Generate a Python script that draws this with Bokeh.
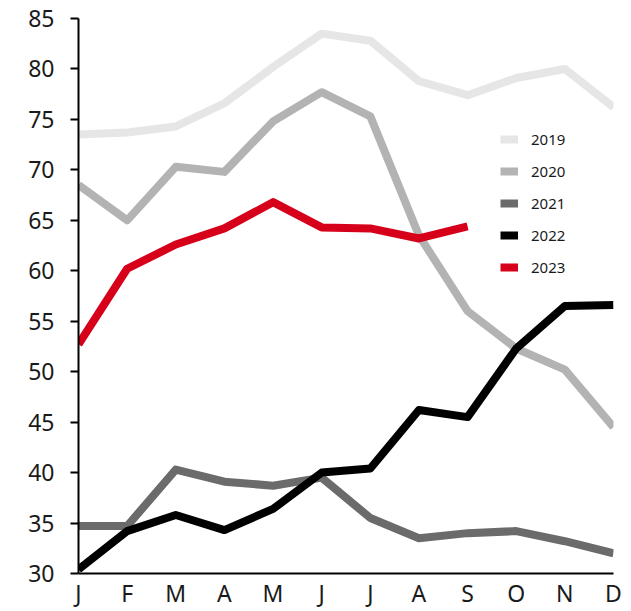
from bokeh.plotting import figure
from bokeh.models import FixedTicker, Legend, LegendItem, Range1d
from bokeh.embed import file_html
from bokeh.resources import INLINE

months = ["J", "F", "M", "A", "M", "J", "J", "A", "S", "O", "N", "D"]
y2019 = [73.5, 73.7, 74.3, 76.6, 80.2, 83.5, 82.8, 78.8, 77.4, 79.1, 80.0, 76.2]
y2020 = [68.5, 65.0, 70.3, 69.8, 74.8, 77.7, 75.3, 63.5, 56.0, 52.3, 50.2, 44.5]
y2021 = [34.7, 34.7, 40.3, 39.1, 38.7, 39.5, 35.5, 33.5, 34.0, 34.2, 33.2, 32.0]
y2022 = [30.4, 34.2, 35.8, 34.3, 36.4, 40.0, 40.4, 46.2, 45.5, 52.3, 56.5, 56.6]
y2023 = [52.7, 60.2, 62.6, 64.2, 66.8, 64.3, 64.2, 63.2, 64.4]
years = ["2019", "2020", "2021", "2022", "2023"]
colors = ["#e6e6e6", "#b3b3b3", "#6b6b6b", "#000000", "#d7001b"]
yticks = [30, 35, 40, 45, 50, 55, 60, 65, 70, 75, 80, 85]

FONT = "Noto Sans"

p = figure(width=625, height=611, output_backend="svg", toolbar_location=None,
           x_range=Range1d(0, 11), y_range=Range1d(30, 85),
           min_border_left=78, min_border_right=12, min_border_top=18, min_border_bottom=38)
p.outline_line_color = None
p.grid.visible = False
p.background_fill_color = "white"

series = [y2019, y2020, y2021, y2022, y2023]
items = []
for name, ys, c in zip(years, series, colors):
    xs = list(range(len(ys)))
    r = p.line(xs, ys, line_color=c, line_width=8, line_join="round", line_cap="butt")
    items.append(LegendItem(label=name, renderers=[r]))

p.xaxis.ticker = FixedTicker(ticks=list(range(len(months))))
p.xaxis.major_label_overrides = {i: m for i, m in enumerate(months)}
p.yaxis.ticker = FixedTicker(ticks=yticks)

for ax in [p.xaxis[0], p.yaxis[0]]:
    ax.axis_line_color = "black"
    ax.axis_line_width = 2
    ax.major_label_text_font = FONT
    ax.major_label_text_font_size = "23px"
    ax.major_label_text_color = "#1a1a1a"
    ax.minor_tick_line_color = None
    ax.major_tick_line_color = "black"
    ax.major_tick_line_width = 2

p.xaxis.major_tick_out = 0
p.xaxis.major_tick_in = 0
p.xaxis.major_label_standoff = 3
p.yaxis.major_tick_out = 8
p.yaxis.major_tick_in = 0
p.yaxis.major_label_standoff = 16

legend = Legend(items=items, location=(422, 296))
legend.border_line_color = None
legend.background_fill_alpha = 0
legend.padding = 0
legend.margin = 0
legend.glyph_width = 18
legend.glyph_height = 20
legend.spacing = 12
legend.label_standoff = 13
legend.label_text_font = FONT
legend.label_text_font_size = "15px"
legend.label_text_color = "#1a1a1a"
p.add_layout(legend, "center")

open("out.html", "w").write(file_html(p, INLINE))
